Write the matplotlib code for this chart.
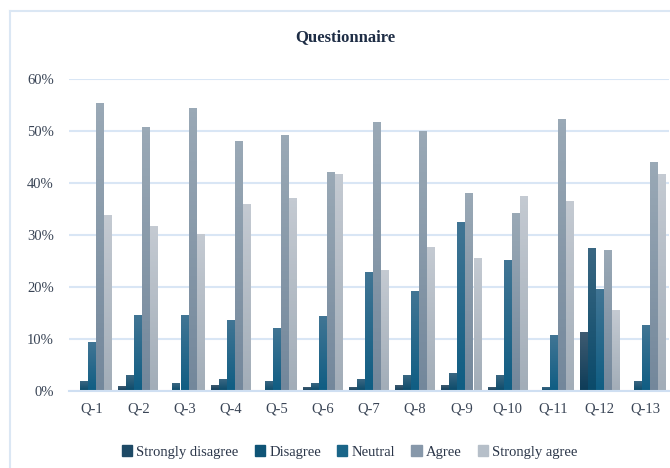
import matplotlib
matplotlib.use("Agg")
import matplotlib.pyplot as plt
import numpy as np
from matplotlib.lines import Line2D
from matplotlib.patches import Patch
from matplotlib.colors import LinearSegmentedColormap

plt.rcParams['font.family'] = ['Liberation Serif', 'DejaVu Serif']

# questionnaire answers, share of respondents per question
questions = ['Q-1', 'Q-2', 'Q-3', 'Q-4', 'Q-5', 'Q-6', 'Q-7',
             'Q-8', 'Q-9', 'Q-10', 'Q-11', 'Q-12', 'Q-13']
strongly_disagree = [0.0, 0.8, 0.0, 1.0, 0.0, 0.6, 0.6, 1.0, 1.0, 0.6, 0.0, 11.2, 0.0]
disagree = [1.9, 2.9, 1.4, 2.3, 1.9, 1.4, 2.3, 2.9, 3.3, 2.9, 0.6, 27.4, 1.9]
neutral = [9.3, 14.5, 14.5, 13.5, 12.0, 14.3, 22.8, 19.1, 32.4, 25.1, 10.6, 19.5, 12.6]
agree = [55.2, 50.6, 54.3, 47.9, 49.2, 42.1, 51.6, 50.0, 38.0, 34.2, 52.3, 27.0, 44.0]
strongly_agree = [33.8, 31.7, 30.1, 35.9, 37.1, 41.7, 23.2, 27.6, 25.5, 37.5, 36.5, 15.5, 41.7]

# name, values, legend colour, gradient top, gradient bottom
series = [
    ('Strongly disagree', strongly_disagree, '#1e4a66', '#3e5b71', '#0d3c58'),
    ('Disagree', disagree, '#0f5476', '#3a6782', '#0a4a6a'),
    ('Neutral', neutral, '#1a6588', '#417594', '#0f5d83'),
    ('Agree', agree, '#8798aa', '#9aa9b6', '#73879b'),
    ('Strongly agree', strongly_agree, '#b6bfc9', '#c4cad2', '#a2adb8'),
]

fig = plt.figure(figsize=(6.7, 4.68), dpi=100)
ax = fig.add_axes([69 / 670, 77 / 468, 600 / 670, 312 / 468])

x = np.arange(len(questions))
w = 0.174
grad = np.linspace(0, 1, 64).reshape(-1, 1)
for i, (name, vals, col, top, bot) in enumerate(series):
    cmap = LinearSegmentedColormap.from_list(name, [top, bot])
    bars = ax.bar(x + (i - 2) * w, np.array(vals) / 100, width=w * 0.96,
                  color=col, label=name, zorder=3)
    for b in bars:
        h = b.get_height()
        if h <= 0:
            continue
        x0 = b.get_x()
        ax.imshow(grad, cmap=cmap, aspect='auto', zorder=3.5,
                  extent=[x0, x0 + b.get_width(), 0, h], origin='upper')

ax.set_xlim(-0.5, 12.5)
ax.set_ylim(0, 0.6)
ax.set_yticks(np.arange(0, 0.61, 0.1))
ax.set_yticklabels([f'{int(round(v * 100))}%' for v in np.arange(0, 0.61, 0.1)])
ax.set_xticks(x)
ax.set_xticklabels(questions)
ax.tick_params(axis='both', length=0, labelsize=10.5, colors='#3a4556')
ax.tick_params(axis='y', pad=11)
ax.tick_params(axis='x', pad=8)
ax.grid(axis='y', color='#d9e6f5', lw=1.5, zorder=0)
for s in ['top', 'right', 'left']:
    ax.spines[s].set_visible(False)
ax.spines['bottom'].set_color('#cfdff2')
ax.spines['bottom'].set_linewidth(1.5)
ax.spines['bottom'].set_zorder(4)

fig.text(0.516, 1 - 37 / 468, 'Questionnaire', ha='center', va='center',
         fontsize=12, fontweight='bold', color='#1e2d45')

# chart area border (left and top visible)
fig.add_artist(Line2D([10 / 670, 10 / 670], [0, 1 - 11 / 468],
                      transform=fig.transFigure, color='#dbe7f4', lw=1.5))
fig.add_artist(Line2D([10 / 670, 1], [1 - 11 / 468, 1 - 11 / 468],
                      transform=fig.transFigure, color='#dbe7f4', lw=1.5))

handles = [Patch(color=s[2]) for s in series]
fig.legend(handles, [s[0] for s in series], loc='center',
           bbox_to_anchor=(0.522, 1 - 452 / 468), ncol=5, frameon=False,
           fontsize=10.5, handlelength=0.7, handleheight=0.7,
           handletextpad=0.3, columnspacing=1.1, labelcolor='#2b3649')

fig.savefig('out.png', dpi=100)
